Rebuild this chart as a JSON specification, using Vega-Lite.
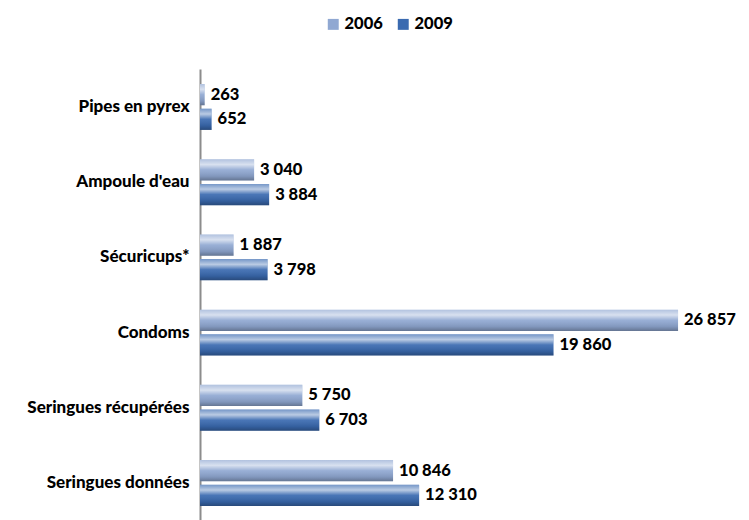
{
  "$schema": "https://vega.github.io/schema/vega-lite/v6.json",
  "width": 534,
  "height": 452,
  "autosize": {"type": "none"},
  "padding": {"left": 200, "top": 69, "right": 15, "bottom": 0},
  "background": "white",
  "config": {"view": {"stroke": null}, "font": "Lato"},
  "data": {
    "values": [
      {"category": "Pipes en pyrex", "year": "2006", "value": 263, "label": "263"},
      {"category": "Pipes en pyrex", "year": "2009", "value": 652, "label": "652"},
      {"category": "Ampoule d'eau", "year": "2006", "value": 3040, "label": "3 040"},
      {"category": "Ampoule d'eau", "year": "2009", "value": 3884, "label": "3 884"},
      {"category": "Sécuricups*", "year": "2006", "value": 1887, "label": "1 887"},
      {"category": "Sécuricups*", "year": "2009", "value": 3798, "label": "3 798"},
      {"category": "Condoms", "year": "2006", "value": 26857, "label": "26 857"},
      {"category": "Condoms", "year": "2009", "value": 19860, "label": "19 860"},
      {"category": "Seringues récupérées", "year": "2006", "value": 5750, "label": "5 750"},
      {"category": "Seringues récupérées", "year": "2009", "value": 6703, "label": "6 703"},
      {"category": "Seringues données", "year": "2006", "value": 10846, "label": "10 846"},
      {"category": "Seringues données", "year": "2009", "value": 12310, "label": "12 310"}
    ]
  },
  "encoding": {
    "y": {
      "field": "category",
      "type": "nominal",
      "sort": ["Pipes en pyrex", "Ampoule d'eau", "Sécuricups*", "Condoms", "Seringues récupérées", "Seringues données"],
      "scale": {"paddingInner": 0.39, "paddingOuter": 0.2},
      "axis": {
        "title": null,
        "ticks": false,
        "domainColor": "#8c8c8c",
        "domainWidth": 2,
        "labelFontSize": 17,
        "labelFontWeight": 900,
        "labelColor": "black",
        "labelPadding": 11,
        "labelFont": "Lato"
      }
    },
    "yOffset": {
      "field": "year",
      "type": "nominal",
      "sort": ["2006", "2009"],
      "scale": {"paddingInner": 0.14, "paddingOuter": 0}
    },
    "x": {
      "field": "value",
      "type": "quantitative",
      "scale": {"domain": [0, 30000]},
      "axis": null
    }
  },
  "layer": [
    {
      "mark": {"type": "bar"},
      "encoding": {
        "color": {
          "field": "year",
          "type": "nominal",
          "scale": {"domain": ["2006", "2009"], "range": ["#90a8d2", "#3a6ab0"]},
          "legend": {
            "orient": "none",
            "legendX": 125,
            "legendY": -53,
            "direction": "horizontal",
            "title": null,
            "symbolType": "square",
            "symbolSize": 120,
            "symbolStrokeWidth": 0,
            "labelFontSize": 16.5,
            "labelFontWeight": 900,
            "labelColor": "black",
            "labelFont": "Lato",
            "labelOffset": 3,
            "columnPadding": 12,
            "padding": 0
          }
        }
      }
    },
    {
      "mark": {
        "type": "bar",
        "color": {
          "gradient": "linear",
          "x1": 0, "y1": 0, "x2": 0, "y2": 1,
          "stops": [
            {"offset": 0, "color": "rgba(255,255,255,0.3)"},
            {"offset": 0.25, "color": "rgba(255,255,255,0.65)"},
            {"offset": 0.5, "color": "rgba(255,255,255,0.08)"},
            {"offset": 0.8, "color": "rgba(0,0,0,0.1)"},
            {"offset": 1, "color": "rgba(0,0,0,0.3)"}
          ]
        }
      }
    },
    {
      "mark": {
        "type": "text",
        "align": "left",
        "baseline": "middle",
        "dx": 6,
        "fontSize": 16.5,
        "fontWeight": 900,
        "font": "Lato",
        "color": "black"
      },
      "encoding": {"text": {"field": "label"}}
    }
  ]
}
